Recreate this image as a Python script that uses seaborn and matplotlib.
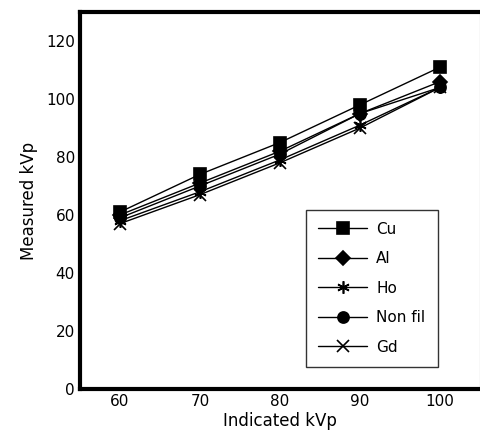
import numpy as np
import pandas as pd
import seaborn as sns
import matplotlib.pyplot as plt

kvp = [60, 70, 80, 90, 100]
cu = [61, 74, 85, 98, 111]
al = [60, 71, 82, 95, 106]
ho = [58, 68, 79, 91, 104]
nonfil = [59, 70, 81, 95, 104]
gd = [57, 67, 78, 90, 104]
names = ['Cu', 'Al', 'Ho', 'Non fil', 'Gd']

df = pd.DataFrame({
    'Indicated kVp': kvp * 5,
    'Measured kVp': cu + al + ho + nonfil + gd,
    'filter': [n for n in names for _ in kvp],
})

sns.set_style('white')
plt.rcParams['font.family'] = ['DejaVu Sans']
plt.rcParams['text.color'] = 'black'
plt.rcParams['axes.labelcolor'] = 'black'

fig = plt.figure(figsize=(4.81, 4.48), dpi=100)
ax = fig.add_axes([0.166, 0.132, 0.832, 0.841])

markers = {'Cu': 's', 'Al': 'D', 'Ho': (6, 2, 0), 'Non fil': 'o', 'Gd': 'x'}
sizes = {'Cu': 8, 'Al': 7, 'Ho': 9, 'Non fil': 8, 'Gd': 9}
for n in names:
    sub = df[df['filter'] == n]
    sns.lineplot(data=sub, x='Indicated kVp', y='Measured kVp', ax=ax,
                 color='black', marker=markers[n], markersize=sizes[n],
                 markeredgecolor='black', markerfacecolor='black',
                 markeredgewidth=1.2, linewidth=1.0, label=n)

ax.set_xlim(55, 105)
ax.set_ylim(0, 130)
ax.set_xticks(kvp)
ax.set_yticks([0, 20, 40, 60, 80, 100, 120])
ax.tick_params(direction='in', length=5, width=1, labelsize=11,
               colors='black', labelcolor='black')
ax.set_xlabel('Indicated kVp', fontsize=12, labelpad=2, color='black')
ax.set_ylabel('Measured kVp', fontsize=12, labelpad=6, color='black')
for side in ['left', 'bottom', 'top']:
    ax.spines[side].set_linewidth(3)
    ax.spines[side].set_color('black')
ax.spines['right'].set_linewidth(0.8)
ax.spines['right'].set_color('#888888')

leg = ax.legend(loc='lower left', bbox_to_anchor=(0.565, 0.058), fontsize=11,
                frameon=True, fancybox=False, edgecolor='black',
                handlelength=3.2, labelspacing=0.95, borderpad=0.8,
                borderaxespad=0, handletextpad=0.6)
leg.get_frame().set_linewidth(1.0)
for t in leg.get_texts():
    t.set_color('black')

fig.savefig('out.png', dpi=100)
